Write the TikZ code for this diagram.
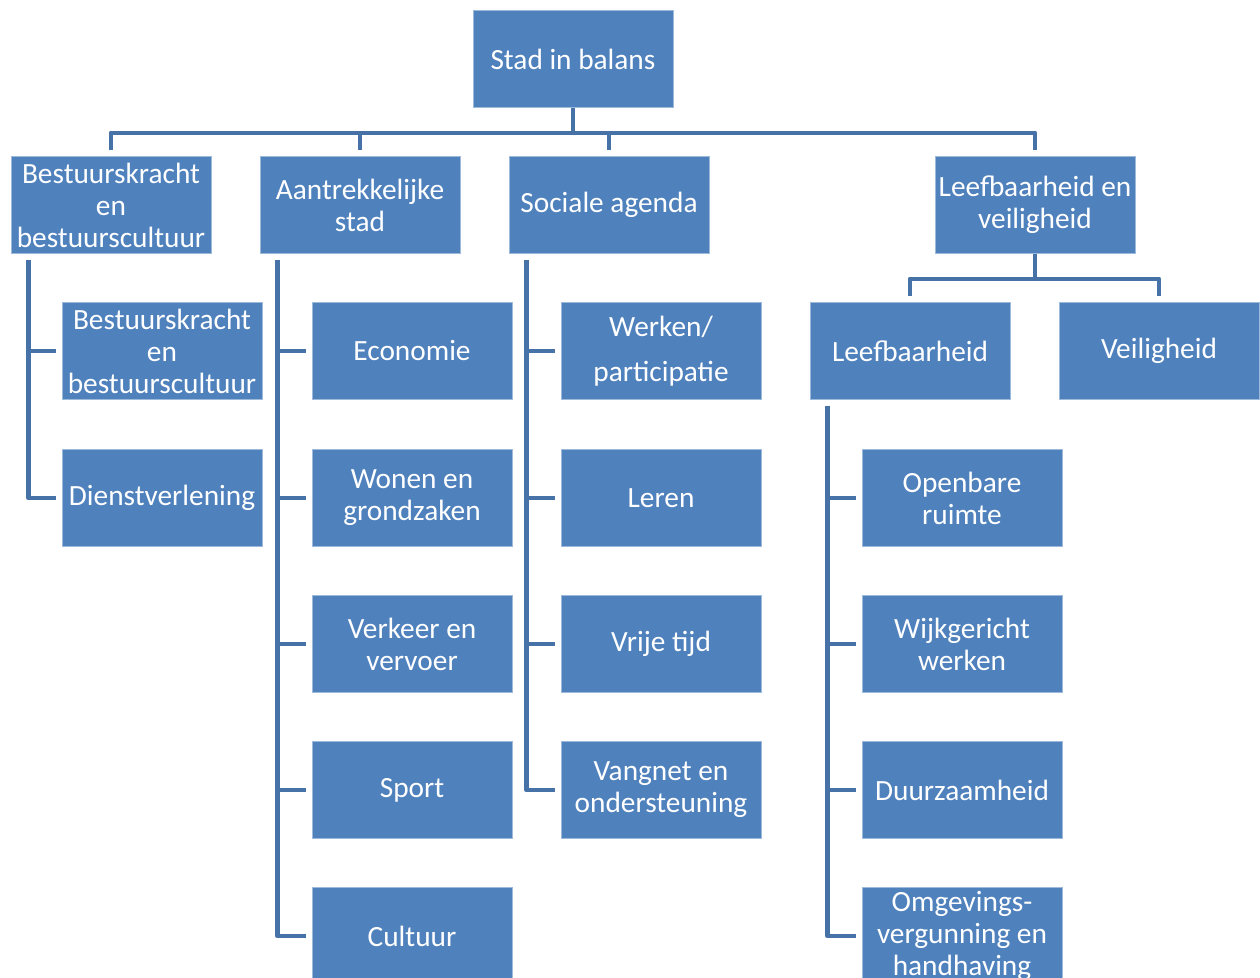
\documentclass[tikz,border=0pt]{standalone}
\usepackage{fontspec}
\setmainfont{Carlito}
\usepackage{tikz}
\usetikzlibrary{calc}

\definecolor{boxblue}{HTML}{4F81BD}
\definecolor{lineblue}{HTML}{4672A8}

\begin{document}
\begin{tikzpicture}[x=0.75pt,y=-0.75pt,
  box/.style={fill=boxblue,draw=white!45!boxblue,line width=0.6pt,minimum width=150pt,minimum height=72.75pt,
    inner sep=0pt,text=white,align=center,font=\fontsize{22}{24}\selectfont},
  conn/.style={draw=lineblue,line width=3.6pt,line join=round}]
\useasboundingbox (0,0) rectangle (1260,978);

\node[box] (top) at (573,59) {Stad in balans};

\node[box] (best) at (111,205) {Bestuurskracht\\en\\bestuurscultuur};
\node[box] (aantr) at (360,205) {Aantrekkelijke\\stad};
\node[box] (soc) at (609,205) {Sociale agenda};
\node[box] (leef) at (1035,205) {Leefbaarheid en\\veiligheid};

\node[box] (bk) at (162,351) {Bestuurskracht\\en\\bestuurscultuur};
\node[box] (dienst) at (162,498) {Dienstverlening};

\node[box] (eco) at (412,351) {Economie};
\node[box] (wonen) at (412,498) {Wonen en\\grondzaken};
\node[box] (verkeer) at (412,644) {Verkeer en\\vervoer};
\node[box] (sport) at (412,790) {Sport};
\node[box] (cult) at (412,936) {Cultuur};

\node[box] (werk) at (661,351) {Werken/\\[9.75pt]participatie};
\node[box] (leren) at (661,498) {Leren};
\node[box] (vrij) at (661,644) {Vrije tijd};
\node[box] (vang) at (661,790) {Vangnet en\\ondersteuning};

\node[box] (leefb) at (910,351) {Leefbaarheid};
\node[box] (veil) at (1159,351) {Veiligheid};

\node[box] (openb) at (962,498) {Openbare\\ruimte};
\node[box] (wijk) at (962,644) {Wijkgericht\\werken};
\node[box] (duurz) at (962,790) {Duurzaamheid};
\node[box] (omgev) at (962,936) {Omgevings-\\vergunning en\\handhaving};

\foreach \c in {best,aantr,soc,leef}
  \draw[conn,shorten >=4.5pt] (top.south) -- ++(0,25) -| (\c.north);
\foreach \c in {leefb,veil}
  \draw[conn,shorten >=4.5pt] (leef.south) -- ++(0,25) -| (\c.north);

\foreach \c in {bk,dienst}
  \draw[conn,shorten <=4.5pt,shorten >=4pt] ([xshift=13.5pt]best.south west) |- (\c.west);
\foreach \c in {eco,wonen,verkeer,sport,cult}
  \draw[conn,shorten <=4.5pt,shorten >=4pt] ([xshift=13.5pt]aantr.south west) |- (\c.west);
\foreach \c in {werk,leren,vrij,vang}
  \draw[conn,shorten <=4.5pt,shorten >=4pt] ([xshift=13.5pt]soc.south west) |- (\c.west);
\foreach \c in {openb,wijk,duurz,omgev}
  \draw[conn,shorten <=4.5pt,shorten >=4pt] ([xshift=13.5pt]leefb.south west) |- (\c.west);
\end{tikzpicture}
\end{document}
